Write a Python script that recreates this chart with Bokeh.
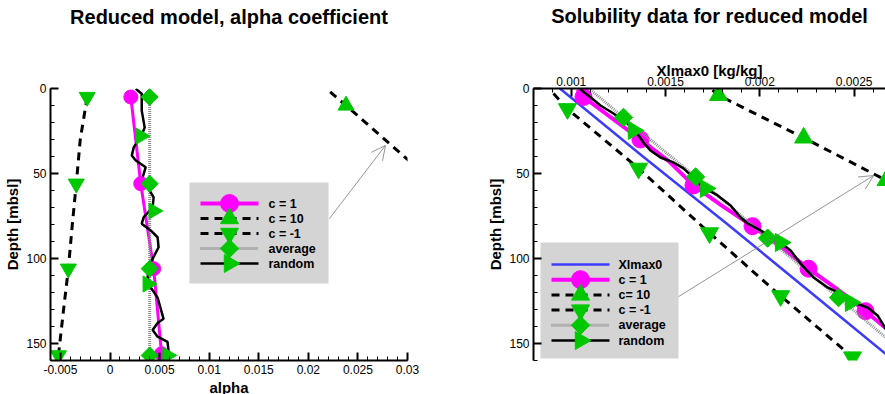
import math
from bokeh.plotting import figure
from bokeh.models import Range1d, FixedTicker, Arrow, OpenHead, Title
from bokeh.core.properties import value
from bokeh.layouts import row
from bokeh.embed import file_html
from bokeh.resources import INLINE

# ---------------- Left panel: alpha coefficient vs depth ----------------
alpha_ticks = [-0.005, 0, 0.005, 0.01, 0.015, 0.02, 0.025, 0.03]
alpha_tick_labels = ["-0.005", "0", "0.005", "0.01", "0.015", "0.02", "0.025", "0.03"]
depth_ticks = [0, 50, 100, 150]

a_c1_depth = [5, 56, 106, 156]
a_c1 = [0.0021, 0.0031, 0.0044, 0.0052]

a_c10_depth = [2, 10, 55, 105, 157]
a_c10 = [0.0222, 0.0238, 0.0326, 0.0423, 0.0524]
a_c10_mk_depth = [10, 55, 105, 157]
a_c10_mk = [0.0238, 0.0326, 0.0423, 0.0524]

a_cm1_depth = [5, 30, 56, 80, 106, 131, 157]
a_cm1 = [-0.0023, -0.0030, -0.0034, -0.0038, -0.0042, -0.0047, -0.0052]
a_cm1_mk_depth = [5, 56, 106, 157]
a_cm1_mk = [-0.0023, -0.0034, -0.0042, -0.0052]

a_avg_depth = [5, 56, 106, 157]
a_avg = [0.0040, 0.0040, 0.0040, 0.0040]

a_rand_depth = [0.2, 3.1, 13, 23, 28.6, 34.5, 39.4, 42.4, 46.3, 54, 58, 64, 70, 75.7, 79.5,
                83.5, 87.5, 93.4, 99, 105, 111, 117, 123, 135.5, 138, 142, 146, 149, 154, 158]
a_rand = [0.0026, 0.0032, 0.0032, 0.0035, 0.0031, 0.0024, 0.0022, 0.0026, 0.0036, 0.0032, 0.0038,
          0.0044, 0.0043, 0.0034, 0.0032, 0.0041, 0.0048, 0.0049, 0.0044, 0.0039, 0.0038, 0.0041,
          0.0048, 0.0054, 0.0048, 0.0043, 0.0048, 0.0058, 0.0059, 0.0059]
a_rand_mk_depth = [28, 72, 115, 157]
a_rand_mk = [0.0031, 0.0044, 0.0038, 0.0058]

alpha_legend_labels = ["c = 1", "c = 10", "c = -1", "average", "random"]

# ---------------- Right panel: solubility Xlmax0 vs depth ----------------
x_ticks = [0.001, 0.0015, 0.002, 0.0025]
x_tick_labels = ["0.001", "0.0015", "0.002", "0.0025"]

s_x0_depth = [0, 40, 80, 120, 160]
s_x0 = [0.00094, 0.00138, 0.00183, 0.00227, 0.00271]

s_c1_depth = [0.6, 5, 17, 30, 43, 57, 69, 81, 93, 106, 118, 131, 144, 156]
s_c1 = [0.001033, 0.001065, 0.00121, 0.001367, 0.00152, 0.001648, 0.0018, 0.001961,
        0.00211, 0.002258, 0.00241, 0.00256, 0.0027, 0.00284]
s_c1_mk_depth = [5, 30, 57, 81, 106, 131, 156]
s_c1_mk = [0.001065, 0.001367, 0.001648, 0.001961, 0.002258, 0.00256, 0.00284]

s_c10_depth = [1, 4, 29, 54, 80, 105, 130, 155]
s_c10 = [0.001749, 0.001781, 0.002232, 0.002669, 0.00313, 0.00357, 0.00402, 0.00446]
s_c10_mk_depth = [4, 29, 54, 80, 105, 130, 155]
s_c10_mk = [0.001781, 0.002232, 0.002669, 0.00313, 0.00357, 0.00402, 0.00446]

s_cm1_depth = [3, 12, 47, 85, 122, 158]
s_cm1 = [0.000906, 0.00098, 0.001357, 0.001733, 0.00211, 0.002491]
s_cm1_mk_depth = [12, 47, 85, 122, 158]
s_cm1_mk = [0.00098, 0.001357, 0.001733, 0.00211, 0.002491]

s_avg_depth = [0, 17, 52, 88, 123, 158]
s_avg = [0.001094, 0.001277, 0.001659, 0.002041, 0.002417, 0.00279]
s_avg_mk_depth = [17, 52, 88, 123, 158]
s_avg_mk = [0.001277, 0.001659, 0.002041, 0.002417, 0.00279]

s_rand_depth = [0.6, 5.1, 10, 14.7, 20.6, 24.7, 27.6, 31.8, 36.5, 40.6, 43.5, 47, 52.4, 58.2,
                62.9, 68.8, 75.9, 79.4, 83.5, 89.4, 95.3, 103, 111.2, 117, 120.6, 125.9, 128.8,
                133.5, 141.2, 150, 158]
s_rand = [0.001049, 0.001102, 0.001155, 0.001224, 0.001298, 0.00133, 0.001357, 0.001383,
          0.00142, 0.001473, 0.001542, 0.001595, 0.001648, 0.001701, 0.001776, 0.001845,
          0.001898, 0.001935, 0.002004, 0.002094, 0.002163, 0.002216, 0.002285, 0.002359,
          0.002428, 0.002497, 0.002571, 0.002624, 0.002666, 0.00275, 0.0028]
s_rand_mk_depth = [24.7, 58.8, 90.6, 125.9]
s_rand_mk = [0.00133, 0.001712, 0.00211, 0.002481]

sol_legend_labels = ["Xlmax0", "c = 1", "c= 10", "c = -1", "average", "random"]

FONT = "Liberation Sans"
GREEN = "#00c800"
MAGENTA = "#ff00ff"
BLUE = "#3c3cff"
GRAYLINE = "#8c8c8c"
LEGBG = "#d4d4d4"
DASH = "8 6"

STYLE = {
    "x0": dict(line=dict(line_color=BLUE, line_width=2.5), marker=None),
    "c1": dict(line=dict(line_color=MAGENTA, line_width=4), marker=("circle", 0, 18, MAGENTA)),
    "c10": dict(line=dict(line_color="black", line_width=3, line_dash=DASH), marker=("triangle", 0, 18, GREEN)),
    "cm1": dict(line=dict(line_color="black", line_width=3, line_dash=DASH), marker=("inverted_triangle", 0, 18, GREEN)),
    "avg": dict(line=dict(line_color=GRAYLINE, line_width=3, line_dash="1 1"), marker=("square", math.pi / 4, 13, GREEN)),
    "rand": dict(line=dict(line_color="black", line_width=2.5), marker=("triangle", -math.pi / 2, 18, GREEN)),
}


def style_axis(ax):
    ax.axis_line_width = 2
    ax.axis_line_color = "black"
    ax.major_tick_in = 8
    ax.major_tick_out = 0
    ax.minor_tick_in = 4
    ax.minor_tick_out = 0
    ax.major_tick_line_width = 2
    ax.minor_tick_line_width = 1
    ax.major_tick_line_color = "black"
    ax.minor_tick_line_color = "black"
    ax.major_label_text_font = FONT
    ax.major_label_text_font_size = "12px"
    ax.major_label_text_color = "black"
    ax.major_label_standoff = 4
    ax.axis_label_text_font = FONT
    ax.axis_label_text_font_size = "15px"
    ax.axis_label_text_font_style = "bold"
    ax.axis_label_text_color = "black"
    ax.axis_label_standoff = 2


def style_title(p, spacer):
    p.title.align = "center"
    p.title.text_font = FONT
    p.title.text_font_size = "20px"
    p.title.text_font_style = "bold"
    p.title.text_color = "black"
    p.title.standoff = 0
    # blank spacer between the frame/top axis and the title
    p.add_layout(Title(text=" ", text_font_size="20px", standoff=spacer), "above")


def draw_legend(p, fw, fh, keys, labels, box, row0, line_x, label_x, row_step):
    """Legend drawn inside the frame; geometry given in frame pixels (from top-left)."""
    xr, yr = p.x_range, p.y_range

    def dx(px):
        return xr.start + px / fw * (xr.end - xr.start)

    def dy(py):  # py measured from frame top
        return yr.end + py / fh * (yr.start - yr.end)

    l, r, t, b = box
    p.quad(left=[dx(l)], right=[dx(r)], top=[dy(t)], bottom=[dy(b)],
           fill_color=LEGBG, line_color=None)
    for i, key in enumerate(keys):
        yy = dy(row0 + i * row_step)
        st = STYLE[key]
        p.line([dx(line_x[0]), dx(line_x[1])], [yy, yy], **st["line"])
    for i, key in enumerate(keys):
        mk = STYLE[key]["marker"]
        if mk is None:
            continue
        yy = dy(row0 + i * row_step)
        marker, angle, size, color = mk
        p.scatter([dx((line_x[0] + line_x[1]) / 2)], [yy], marker=marker, angle=angle,
                  size=size, fill_color=color, line_color=color)
    p.text(x=[dx(label_x)] * len(labels), y=[dy(row0 + i * row_step) for i in range(len(labels))],
           text=labels, text_font=value(FONT), text_font_style="bold", text_font_size="12.5px",
           text_color="black", text_baseline="middle", text_align="left")


depth_minor = [d for d in range(0, 161, 10)]

# ---------------- Left figure ----------------
FW1, FH1 = 357, 272
p1 = figure(frame_width=FW1, frame_height=FH1, x_range=Range1d(-0.006, 0.03), y_range=Range1d(160, 0),
            output_backend="svg", toolbar_location=None, title="Reduced model, alpha coefficient",
            min_border_left=50, min_border_right=33, min_border_top=88, min_border_bottom=34)
p1.outline_line_color = None
p1.xgrid.visible = False
p1.ygrid.visible = False
style_title(p1, 37)
p1.xaxis.axis_label = "alpha"
p1.yaxis.axis_label = "Depth [mbsl]"
p1.xaxis.ticker = FixedTicker(ticks=alpha_ticks,
                              minor_ticks=[round(-0.006 + i * 0.001, 4) for i in range(37)])
p1.xaxis.major_label_overrides = dict(zip(alpha_ticks, alpha_tick_labels))
p1.yaxis.ticker = FixedTicker(ticks=depth_ticks, minor_ticks=depth_minor)
style_axis(p1.xaxis[0])
style_axis(p1.yaxis[0])

p1.line(a_c1, a_c1_depth, line_color=MAGENTA, line_width=3)
p1.line(a_c10, a_c10_depth, **STYLE["c10"]["line"])
p1.line(a_cm1, a_cm1_depth, **STYLE["cm1"]["line"])
p1.line(a_avg, a_avg_depth, **STYLE["avg"]["line"])
p1.line(a_rand, a_rand_depth, **STYLE["rand"]["line"])
p1.scatter(a_c1, a_c1_depth, marker="circle", size=14, fill_color=MAGENTA, line_color=MAGENTA)
p1.scatter(a_c10_mk, a_c10_mk_depth, marker="triangle", size=16, fill_color=GREEN, line_color=GREEN)
p1.scatter(a_cm1_mk, a_cm1_mk_depth, marker="inverted_triangle", size=16, fill_color=GREEN, line_color=GREEN)
p1.scatter(a_avg, a_avg_depth, marker="square", angle=math.pi / 4, size=12, fill_color=GREEN, line_color=GREEN)
p1.scatter(a_rand_mk, a_rand_mk_depth, marker="triangle", angle=-math.pi / 2, size=16, fill_color=GREEN, line_color=GREEN)

draw_legend(p1, FW1, FH1, ["c1", "c10", "cm1", "avg", "rand"], alpha_legend_labels,
            box=(139, 278, 94, 195), row0=115, line_x=(150, 208), label_x=218, row_step=15)

p1.add_layout(Arrow(end=OpenHead(size=14, line_color="#7a7a7a", line_width=0.8),
                    x_start=0.02213, y_start=76.5, x_end=0.02778, y_end=33.5,
                    line_color="#7a7a7a", line_width=0.8))

# ---------------- Right figure ----------------
FW2, FH2 = 352, 272
p2 = figure(frame_width=FW2, frame_height=FH2, x_range=Range1d(0.0008, 0.002666), y_range=Range1d(160, 0),
            x_axis_location="above", output_backend="svg", toolbar_location=None,
            title="Solubility data for reduced model",
            min_border_left=93, min_border_right=0, min_border_top=88, min_border_bottom=34)
p2.outline_line_color = None
p2.xgrid.visible = False
p2.ygrid.visible = False
p2.xaxis.axis_label = "Xlmax0 [kg/kg]"
p2.yaxis.axis_label = "Depth [mbsl]"
p2.xaxis.ticker = FixedTicker(ticks=x_ticks,
                              minor_ticks=[round(0.0008 + i * 0.0001, 5) for i in range(20)])
p2.xaxis.major_label_overrides = dict(zip(x_ticks, x_tick_labels))
p2.yaxis.ticker = FixedTicker(ticks=depth_ticks, minor_ticks=depth_minor)
style_axis(p2.xaxis[0])
style_axis(p2.yaxis[0])
p2.xaxis[0].axis_label_standoff = -5
p2.xaxis[0].major_label_standoff = 3
style_title(p2, 8)

p2.line(s_x0, s_x0_depth, **STYLE["x0"]["line"])
p2.line(s_c1, s_c1_depth, **STYLE["c1"]["line"])
p2.scatter(s_c1_mk, s_c1_mk_depth, marker="circle", size=17, fill_color=MAGENTA, line_color=MAGENTA)
p2.line(s_c10, s_c10_depth, **STYLE["c10"]["line"])
p2.line(s_cm1, s_cm1_depth, **STYLE["cm1"]["line"])
p2.line(s_avg, s_avg_depth, **STYLE["avg"]["line"])
p2.line(s_rand, s_rand_depth, **STYLE["rand"]["line"])
p2.scatter(s_c10_mk, s_c10_mk_depth, marker="triangle", size=18, fill_color=GREEN, line_color=GREEN)
p2.scatter(s_cm1_mk, s_cm1_mk_depth, marker="inverted_triangle", size=18, fill_color=GREEN, line_color=GREEN)
p2.scatter(s_avg_mk, s_avg_mk_depth, marker="square", angle=math.pi / 4, size=13, fill_color=GREEN, line_color=GREEN)
p2.scatter(s_rand_mk, s_rand_mk_depth, marker="triangle", angle=-math.pi / 2, size=18, fill_color=GREEN, line_color=GREEN)

draw_legend(p2, FW2, FH2, ["x0", "c1", "c10", "cm1", "avg", "rand"], sol_legend_labels,
            box=(7, 145, 154, 270), row0=176, line_x=(18, 76), label_x=85, row_step=15.2)

p2.add_layout(Arrow(end=OpenHead(size=14, line_color="#7a7a7a", line_width=0.8),
                    x_start=0.001569, y_start=122.4, x_end=0.002603, y_end=51.2,
                    line_color="#7a7a7a", line_width=0.8))

layout = row(p1, p2, spacing=0)
open("out.html", "w").write(file_html(layout, INLINE))
